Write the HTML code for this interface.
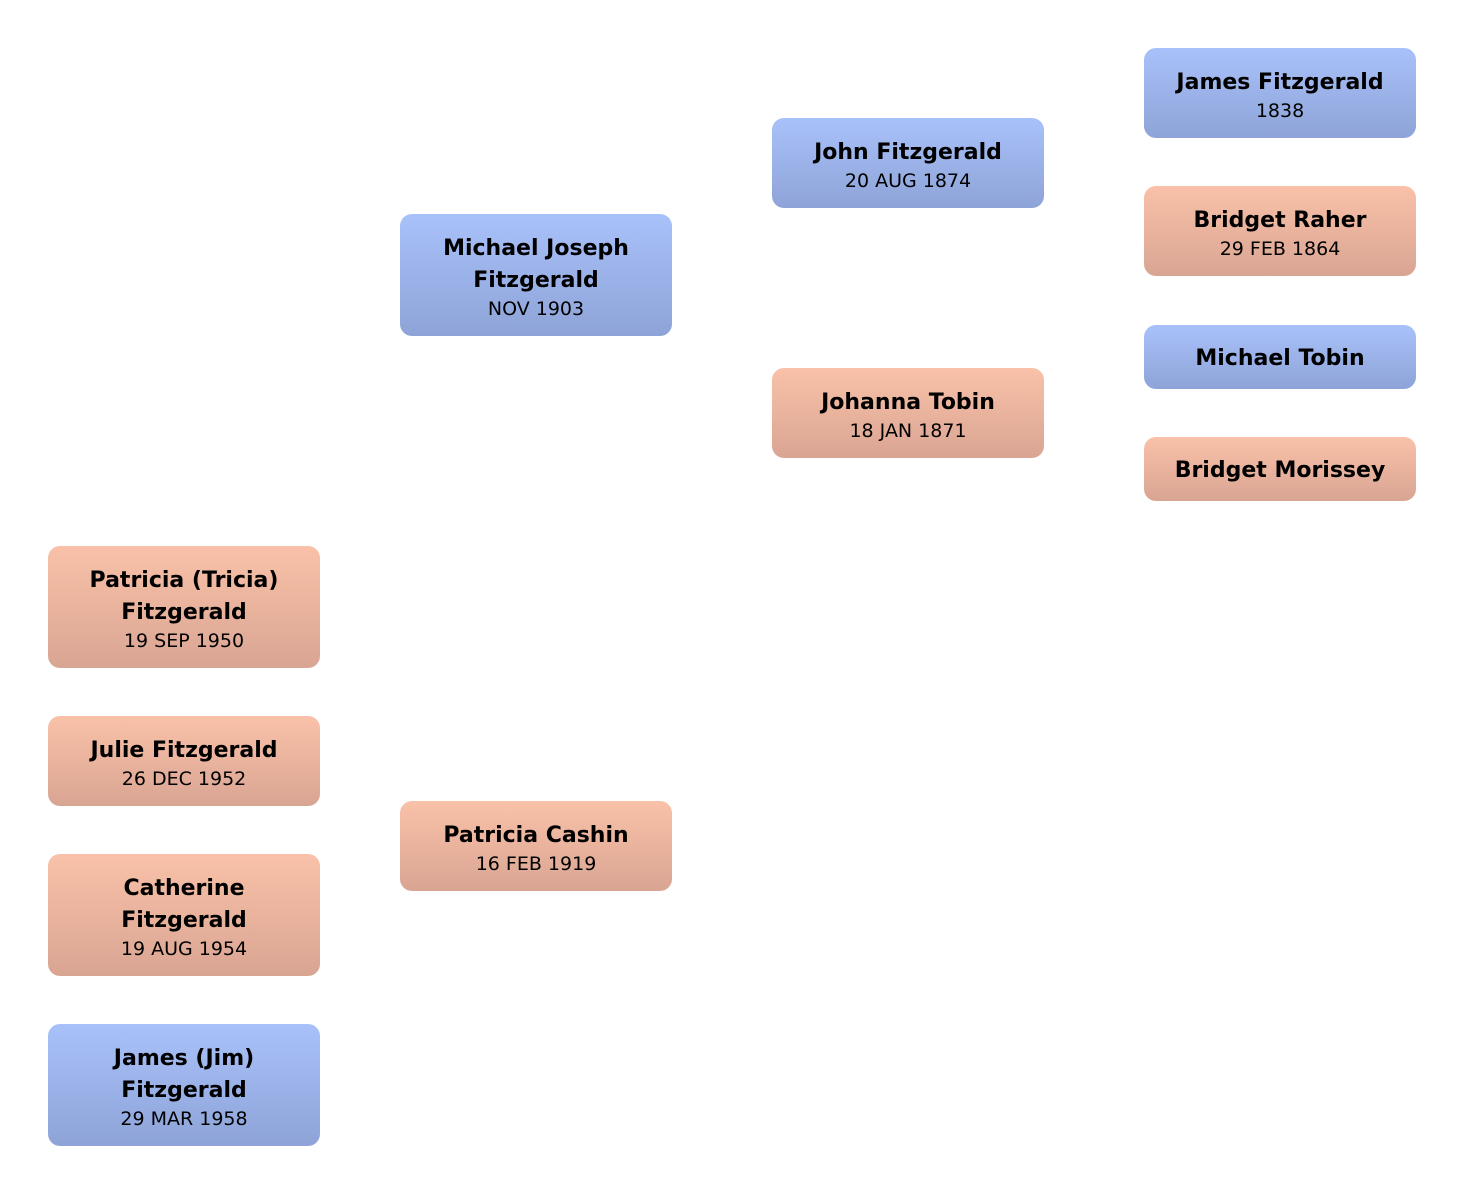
<!DOCTYPE html>
<html><head><meta charset="utf-8"><style>
html,body{margin:0;padding:0;background:#fff;width:1464px;height:1194px;overflow:hidden}
.b{position:absolute;width:272px;border-radius:12px;display:flex;flex-direction:column;align-items:center;justify-content:center;text-align:center;font-family:"DejaVu Sans","Liberation Sans",sans-serif;color:#000;box-sizing:border-box;padding:3px 16px 0}
.m{background:linear-gradient(#a9c1fa,#8ea4d8)}
.f{background:linear-gradient(#f9c1a8,#d9a593)}
.n{font-weight:bold;font-size:22px;line-height:32px}
.d{font-size:19px;line-height:24px}
</style></head><body>
<div class="b m" style="left:1144px;top:48px;height:90px"><div class="n">James Fitzgerald</div><div class="d">1838</div></div>
<div class="b f" style="left:1144px;top:186px;height:90px"><div class="n">Bridget Raher</div><div class="d">29 FEB 1864</div></div>
<div class="b m" style="left:1144px;top:325px;height:64px"><div class="n">Michael Tobin</div></div>
<div class="b f" style="left:1144px;top:437px;height:64px"><div class="n">Bridget Morissey</div></div>
<div class="b m" style="left:772px;top:118px;height:90px"><div class="n">John Fitzgerald</div><div class="d">20 AUG 1874</div></div>
<div class="b f" style="left:772px;top:368px;height:90px"><div class="n">Johanna Tobin</div><div class="d">18 JAN 1871</div></div>
<div class="b m" style="left:400px;top:214px;height:122px"><div class="n">Michael Joseph<br>Fitzgerald</div><div class="d">NOV 1903</div></div>
<div class="b f" style="left:400px;top:801px;height:90px"><div class="n">Patricia Cashin</div><div class="d">16 FEB 1919</div></div>
<div class="b f" style="left:48px;top:546px;height:122px"><div class="n">Patricia (Tricia)<br>Fitzgerald</div><div class="d">19 SEP 1950</div></div>
<div class="b f" style="left:48px;top:716px;height:90px"><div class="n">Julie Fitzgerald</div><div class="d">26 DEC 1952</div></div>
<div class="b f" style="left:48px;top:854px;height:122px"><div class="n">Catherine<br>Fitzgerald</div><div class="d">19 AUG 1954</div></div>
<div class="b m" style="left:48px;top:1024px;height:122px"><div class="n">James (Jim)<br>Fitzgerald</div><div class="d">29 MAR 1958</div></div>
</body></html>
